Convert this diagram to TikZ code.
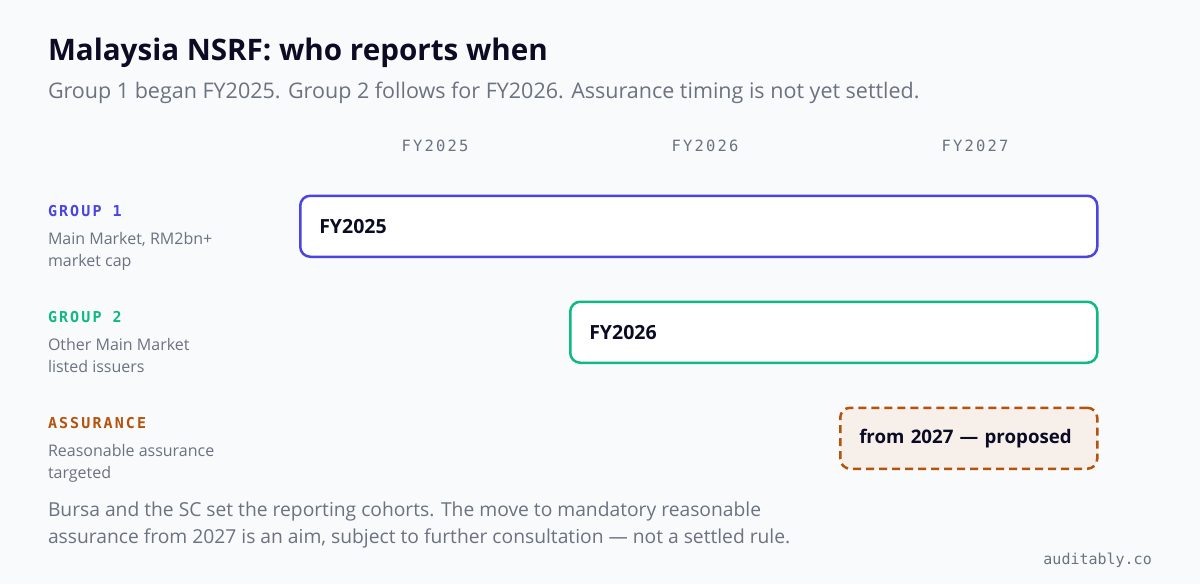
\documentclass[tikz,border=0pt]{standalone}
\usepackage{fontspec}
\setmainfont{Open Sans}
\newfontfamily\monolab[LetterSpace=14]{DejaVu Sans Mono}
\newfontfamily\monoplain{DejaVu Sans Mono}
\definecolor{bgc}{HTML}{F8FAFC}
\definecolor{ink}{HTML}{0B0C24}
\definecolor{muted}{HTML}{6B7280}
\definecolor{indigoc}{HTML}{4A44E0}
\definecolor{greenc}{HTML}{10B981}
\definecolor{brownc}{HTML}{B45309}
\definecolor{softfill}{HTML}{F7EFEA}
\tikzset{
  txt/.style={anchor=base west, inner sep=0pt, outer sep=0pt},
  hdr/.style={anchor=base, inner sep=0pt, text=muted, font=\monolab\fontsize{15.5}{18}\selectfont},
  grp/.style={txt, font=\monolab\bfseries\fontsize{15}{18}\selectfont},
  desc/.style={txt, text=muted, font=\fontsize{16}{18}\selectfont},
  bar/.style={anchor=north west, rounded corners=10pt, line width=2.5pt, fill=white,
    minimum height=61pt, inner xsep=19pt, inner ysep=0pt, align=left, text=ink,
    font=\bfseries\fontsize{19.5}{22}\selectfont},
}
\begin{document}
\begin{tikzpicture}[x=1pt,y=-1pt]
\fill[bgc] (0,0) rectangle (1200,584);
\useasboundingbox (0,0) rectangle (1200,584);
% title
\node[txt, text=ink, font=\bfseries\fontsize{29.6}{34}\selectfont] (title) at (48,60) {Malaysia NSRF: who reports when};
\node[txt, text=muted, font=\fontsize{21.5}{24}\selectfont] (sub) at (48,98) {Group 1 began FY2025. Group 2 follows for FY2026. Assurance timing is not yet settled.};
% year headers
\node[hdr] (y1) at (435,151) {FY2025};
\node[hdr] (y2) at (705,151) {FY2026};
\node[hdr] (y3) at (975,151) {FY2027};
% row labels
\node[grp, text=indigoc] (g1) at (48,216) {GROUP 1};
\node[desc] (g1a) at (48,244) {Main Market, RM2bn+};
\node[desc] (g1b) at (48,266) {market cap};
\node[grp, text=greenc] (g2) at (48,322) {GROUP 2};
\node[desc] (g2a) at (48,350) {Other Main Market};
\node[desc] (g2b) at (48,372) {listed issuers};
\node[grp, text=brownc] (g3) at (48,428) {ASSURANCE};
\node[desc] (g3a) at (48,456) {Reasonable assurance};
\node[desc] (g3b) at (48,478) {targeted};
% bars
\node[bar, draw=indigoc, text width=759pt] (b1) at (299,194.5) {FY2025};
\node[bar, draw=greenc, text width=489pt] (b2) at (569,300.5) {FY2026};
\node[bar, draw=brownc, fill=softfill, dash pattern=on 8pt off 5pt, text width=219pt,
  font=\bfseries\fontsize{18.7}{22}\selectfont] (b3) at (839,406.5) {\mbox{from 2027 — proposed}};
% footer
\node[txt, text=muted, font=\fontsize{19.25}{24}\selectfont] (f1) at (48,516) {Bursa and the SC set the reporting cohorts. The move to mandatory reasonable};
\node[txt, text=muted, font=\fontsize{19.25}{24}\selectfont] (f2) at (48,543) {assurance from 2027 is an aim, subject to further consultation — not a settled rule.};
\node[anchor=base east, inner sep=0pt, text=muted, font=\monoplain\fontsize{15}{18}\selectfont] (brand) at (1152,564) {auditably.co};
\end{tikzpicture}
\end{document}
